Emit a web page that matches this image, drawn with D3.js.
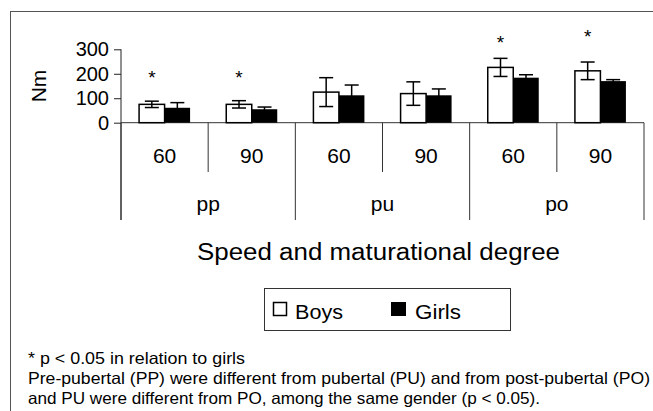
<!DOCTYPE html>
<html>
<head>
<meta charset="utf-8">
<script src="https://cdn.jsdelivr.net/npm/d3@7"></script>
<style>
  html, body { margin: 0; padding: 0; background: #fff; }
  svg { display: block; }
  text { font-family: "Liberation Sans", Arial, sans-serif; fill: #000; }
</style>
</head>
<body>
<svg id="chart" width="653" height="411"></svg>
<script>
// ---- data ----
const speeds = ["60", "90", "60", "90", "60", "90"];
const groups = ["pp", "pu", "po"];
const boys = [75, 75, 125, 119, 226, 212];
const boysErr = [13, 15, 59, 48, 37, 36];
const girls = [61, 55, 112, 112, 184, 170];
const girlsErr = [21, 9, 42, 26, 12, 6];
const significant = [true, true, false, false, true, true];
const starLevel = [204, 204, 0, 0, 345, 372];
const yTicks = [0, 100, 200, 300];
const seriesNames = ["Boys", "Girls"];
const yLabel = "Nm";
const xTitle = "Speed and maturational degree";
const notes = [
  "* p < 0.05 in relation to girls",
  "Pre-pubertal (PP) were different from pubertal (PU) and from post-pubertal (PO)",
  "and PU were different from PO, among the same gender (p < 0.05)."
];
const noteWidths = [217, 622, 512];

const svg = d3.select("#chart");

// outer frame (clipped at right and bottom)
svg.append("rect").attr("x", 10.5).attr("y", 11.5).attr("width", 700).attr("height", 500)
  .attr("fill", "none").attr("stroke", "#555").attr("stroke-width", 1);

const left = 121, right = 644;
const y = d3.scaleLinear().domain([0, 300]).range([122.7, 49.3]);
const x = d3.scaleBand().domain(d3.range(speeds.length)).range([left, right]).padding(0);
const bw = 25.5;

// y axis
const yAxis = d3.axisLeft(y).tickValues(yTicks).tickSize(7).tickPadding(5).tickFormat(d3.format("d"));
const ya = svg.append("g").attr("transform", `translate(${left},0)`).call(yAxis);
ya.select(".domain").remove();
ya.selectAll("line").attr("stroke", "#222");
ya.selectAll("text").style("font-size", "20px").style("font-family", "Liberation Sans, Arial, sans-serif");
svg.append("line").attr("x1", left).attr("x2", left).attr("y1", y(300)).attr("y2", 220)
  .attr("stroke", "#222").attr("stroke-width", 1);

svg.append("text").attr("transform", `translate(46,${86}) rotate(-90)`)
  .attr("text-anchor", "middle").style("font-size", "21px").text(yLabel);

// category axis baseline
svg.append("line").attr("x1", left).attr("x2", right).attr("y1", y(0)).attr("y2", y(0))
  .attr("stroke", "#333").attr("stroke-width", 1);

// bars
const g = svg.append("g");
speeds.forEach((s, i) => {
  const cx = x(i) + x.bandwidth() / 2;
  g.append("rect").attr("x", cx - bw).attr("y", y(boys[i])).attr("width", bw)
    .attr("height", y(0) - y(boys[i])).attr("fill", "#fff").attr("stroke", "#000").attr("stroke-width", 1.5);
  g.append("rect").attr("x", cx).attr("y", y(girls[i])).attr("width", bw)
    .attr("height", y(0) - y(girls[i])).attr("fill", "#000");
});

// error bars
function errBar(cxp, v, e) {
  const cap = 7;
  g.append("line").attr("x1", cxp).attr("x2", cxp).attr("y1", y(v + e)).attr("y2", y(Math.max(0, v - e)))
    .attr("stroke", "#000").attr("stroke-width", 1.5);
  [v + e, v - e].forEach(t => {
    g.append("line").attr("x1", cxp - cap).attr("x2", cxp + cap).attr("y1", y(t)).attr("y2", y(t))
      .attr("stroke", "#000").attr("stroke-width", 1.5);
  });
}
speeds.forEach((s, i) => {
  const cx = x(i) + x.bandwidth() / 2;
  errBar(cx - bw / 2, boys[i], boysErr[i]);
  errBar(cx + bw / 2, girls[i], girlsErr[i]);
  if (significant[i]) {
    svg.append("text").attr("x", cx - bw / 2).attr("y", y(starLevel[i]) + 11)
      .attr("text-anchor", "middle").style("font-size", "19px").text("*");
  }
});

// category ticks
for (let k = 0; k <= speeds.length; k++) {
  const xp = k < speeds.length ? x(k) : right;
  const long = k % 2 === 0;
  svg.append("line").attr("x1", xp).attr("x2", xp).attr("y1", y(0)).attr("y2", long ? 220 : 172)
    .attr("stroke", "#333").attr("stroke-width", 1);
}
speeds.forEach((s, i) => {
  svg.append("text").attr("x", x(i) + x.bandwidth() / 2).attr("y", 163)
    .attr("text-anchor", "middle").style("font-size", "21px").text(s);
});
groups.forEach((gname, j) => {
  const cx = x(2 * j) + x.bandwidth();
  svg.append("text").attr("x", cx).attr("y", 211)
    .attr("text-anchor", "middle").style("font-size", "21px").text(gname);
});

// x title
svg.append("text").attr("x", 197).attr("y", 260)
  .attr("textLength", 363).attr("lengthAdjust", "spacingAndGlyphs")
  .style("font-size", "23px").attr("fill", "#222").text(xTitle);

// legend
svg.append("rect").attr("x", 264.5).attr("y", 288.5).attr("width", 246).attr("height", 42)
  .attr("fill", "none").attr("stroke", "#333").attr("stroke-width", 1);
svg.append("rect").attr("x", 273.5).attr("y", 302.5).attr("width", 13).attr("height", 13)
  .attr("fill", "#fff").attr("stroke", "#000").attr("stroke-width", 1.5);
svg.append("text").attr("x", 295).attr("y", 318.5).attr("textLength", 48).attr("lengthAdjust", "spacingAndGlyphs")
  .style("font-size", "20px").attr("fill", "#222").text(seriesNames[0]);
svg.append("rect").attr("x", 391).attr("y", 302).attr("width", 15).attr("height", 14).attr("fill", "#000");
svg.append("text").attr("x", 415).attr("y", 318.5).attr("textLength", 46).attr("lengthAdjust", "spacingAndGlyphs")
  .style("font-size", "20px").attr("fill", "#222").text(seriesNames[1]);

// notes
notes.forEach((t, i) => {
  svg.append("text").attr("x", 28).attr("y", 364 + i * 20)
    .attr("textLength", noteWidths[i]).attr("lengthAdjust", "spacingAndGlyphs")
    .style("font-size", "16.5px").attr("fill", "#222").text(t);
});
</script>
</body>
</html>
